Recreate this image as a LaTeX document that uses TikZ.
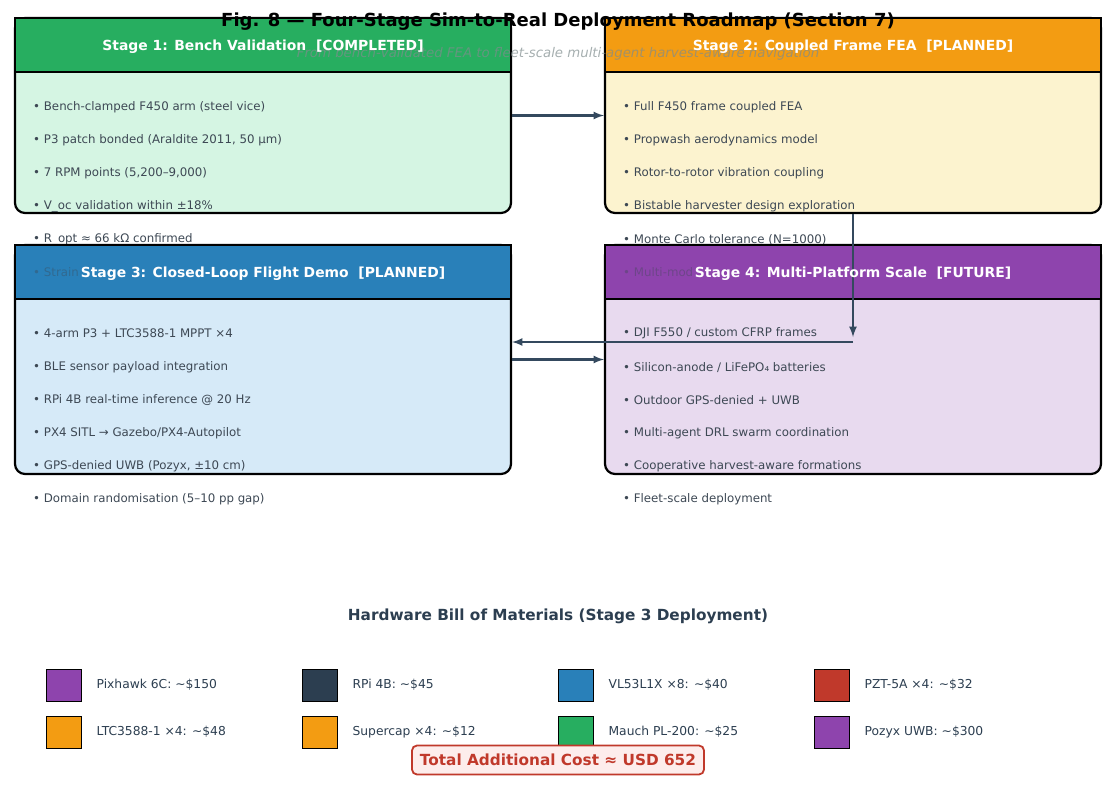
\documentclass[tikz,border=0pt]{standalone}
\usepackage{fontspec}
\setmainfont{DejaVu Sans}
\usetikzlibrary{positioning}
\tikzset{>=latex}
\definecolor{sgreen}{HTML}{27AE60}
\definecolor{sgreenlt}{HTML}{D5F5E3}
\definecolor{sorange}{HTML}{F39C12}
\definecolor{sorangelt}{HTML}{FCF3CF}
\definecolor{sblue}{HTML}{2980B9}
\definecolor{sbluelt}{HTML}{D6EAF8}
\definecolor{spurple}{HTML}{8E44AD}
\definecolor{spurplelt}{HTML}{E8DAEF}
\definecolor{sred}{HTML}{C0392B}
\definecolor{spink}{HTML}{FDEDEC}
\definecolor{slate}{HTML}{2C3E50}
\definecolor{flowgray}{HTML}{34495E}
\definecolor{itemgray}{HTML}{3D4854}
\definecolor{subgray}{HTML}{7F8C8D}
\tikzset{
  stagebox/.style={draw=black, line width=2.2pt, rounded corners=10pt, minimum width=496pt, inner sep=0pt},
  headbox/.style={draw=black, line width=2.2pt, minimum width=496pt, minimum height=54pt, inner sep=0pt},
  headtext/.style={text=white, yshift=-1.5pt, font=\bfseries\fontsize{13.9}{16}\selectfont},
  item/.style={anchor=west, inner sep=0pt, yshift=-1.5pt, text=itemgray, font=\fontsize{11.8}{14}\selectfont},
  hidden/.style={item, text opacity=0.4},
  flow/.style={->, draw=flowgray, line width=2.5pt},
  swatch/.style={draw=black, line width=0.8pt, minimum width=35pt, minimum height=32pt, inner sep=0pt},
  bomtext/.style={anchor=west, inner sep=0pt, text=slate, font=\fontsize{12.3}{14}\selectfont}
}

\begin{document}
\begin{tikzpicture}[x=1pt,y=-1pt]
  \pgfmathsetmacro{\leftx}{263};
  \pgfmathsetmacro{\rightx}{853};
  \pgfmathsetmacro{\itemleft}{33};
  \pgfmathsetmacro{\itemright}{623};
  \useasboundingbox (0,0) rectangle (1117,795);
  \node[stagebox, fill=sgreenlt, minimum height=195pt] (s1) at (\leftx,115.5) {};
  \node[stagebox, fill=sorangelt, minimum height=195pt] (s2) at (\rightx,115.5) {};
  \node[headbox, fill=sgreen, anchor=north] (h1) at (s1.north) {};
  \node[headbox, fill=sorange, anchor=north] (h2) at (s2.north) {};
  \node[item] (s1a) at (\itemleft,106) {• Bench-clamped F450 arm (steel vice)};
  \node[item] (s1b) at (\itemleft,139) {• P3 patch bonded (Araldite 2011, 50 µm)};
  \node[item] (s1c) at (\itemleft,172) {• 7 RPM points (5,200–9,000)};
  \node[item] (s1d) at (\itemleft,205) {• V\_oc validation within ±18\%};
  \node[item] (s1e) at (\itemleft,238) {• R\_opt ≈ 66 kΩ confirmed};
  \node[item] (s2a) at (\itemright,106) {• Full F450 frame coupled FEA};
  \node[item] (s2b) at (\itemright,139) {• Propwash aerodynamics model};
  \node[item] (s2c) at (\itemright,172) {• Rotor-to-rotor vibration coupling};
  \node[item] (s2d) at (\itemright,205) {• Bistable harvester design exploration};
  \node[item] (s2e) at (\itemright,238) {• Monte Carlo tolerance (N=1000)};
  \node[stagebox, fill=sbluelt, minimum height=229pt] (s3) at (\leftx,359.5) {};
  \node[stagebox, fill=spurplelt, minimum height=229pt] (s4) at (\rightx,359.5) {};
  \node[headbox, fill=sblue, anchor=north] (h3) at (s3.north) {};
  \node[headbox, fill=spurple, anchor=north] (h4) at (s4.north) {};
  \node[hidden] (s1f) at (\itemleft,271) {• Strain};
  \node[hidden] (s2f) at (\itemright,271) {• Multi-mod};
  \node[item] (s3a) at (\itemleft,332) {• 4-arm P3 + LTC3588-1 MPPT ×4};
  \node[item] (s3b) at (\itemleft,366) {• BLE sensor payload integration};
  \node[item] (s3c) at (\itemleft,399) {• RPi 4B real-time inference @ 20 Hz};
  \node[item] (s3d) at (\itemleft,432) {• PX4 SITL → Gazebo/PX4-Autopilot};
  \node[item] (s3e) at (\itemleft,465) {• GPS-denied UWB (Pozyx, ±10 cm)};
  \node[item] (s3f) at (\itemleft,498) {• Domain randomisation (5–10 pp gap)};
  \node[item] (s4a) at (\itemright,332) {• DJI F550 / custom CFRP frames};
  \node[item] (s4b) at (\itemright,366) {• Silicon-anode / LiFePO₄ batteries};
  \node[item] (s4c) at (\itemright,399) {• Outdoor GPS-denied + UWB};
  \node[item] (s4d) at (\itemright,432) {• Multi-agent DRL swarm coordination};
  \node[item] (s4e) at (\itemright,465) {• Cooperative harvest-aware formations};
  \node[item] (s4f) at (\itemright,498) {• Fleet-scale deployment};
  \coordinate (drop) at (\rightx,337);
  \coordinate (turn) at (\rightx,342);
  \draw[flow] (s1.east) -- (s2.west);
  \draw[flow] (s2.south) -- (drop);
  \draw[flow] (turn) -- (turn -| s3.east);
  \draw[flow] (s3.east) -- (s4.west);
  \node[font=\bfseries\fontsize{18}{21}\selectfont] (title) at (558,22) {Fig. 8 — Four-Stage Sim-to-Real Deployment Roadmap (Section 7)};
  \node[font=\itshape\fontsize{13.3}{15}\selectfont, text=subgray, text opacity=0.7] (subtitle) at (558,54) {From bench-validated FEA to fleet-scale multi-agent harvest-aware navigation};
  \node[headtext] (t1) at (h1) {Stage 1: Bench Validation\ \ [COMPLETED]};
  \node[headtext] (t2) at (h2) {Stage 2: Coupled Frame FEA\ \ [PLANNED]};
  \node[headtext] (t3) at (h3) {Stage 3: Closed-Loop Flight Demo\ \ [PLANNED]};
  \node[headtext] (t4) at (h4) {Stage 4: Multi-Platform Scale\ \ [FUTURE]};
  \node[text=slate, font=\bfseries\fontsize{15.3}{18}\selectfont] (bom) at (558,616) {Hardware Bill of Materials (Stage 3 Deployment)};
  \node[swatch, fill=spurple] (b1) at (63.5,685) {};
  \node[swatch, fill=slate] (b2) at (319.5,685) {};
  \node[swatch, fill=sblue] (b3) at (575.5,685) {};
  \node[swatch, fill=sred] (b4) at (831.5,685) {};
  \node[swatch, fill=sorange] (b5) at (63.5,732) {};
  \node[swatch, fill=sorange] (b6) at (319.5,732) {};
  \node[swatch, fill=sgreen] (b7) at (575.5,732) {};
  \node[swatch, fill=spurple] (b8) at (831.5,732) {};
  \node[bomtext, right=15pt of b1] (l1) {Pixhawk 6C: \textasciitilde\$150};
  \node[bomtext, right=15pt of b2] (l2) {RPi 4B: \textasciitilde\$45};
  \node[bomtext, right=15pt of b3] (l3) {VL53L1X ×8: \textasciitilde\$40};
  \node[bomtext, right=15pt of b4] (l4) {PZT-5A ×4: \textasciitilde\$32};
  \node[bomtext, right=15pt of b5] (l5) {LTC3588-1 ×4: \textasciitilde\$48};
  \node[bomtext, right=15pt of b6] (l6) {Supercap ×4: \textasciitilde\$12};
  \node[bomtext, right=15pt of b7] (l7) {Mauch PL-200: \textasciitilde\$25};
  \node[bomtext, right=15pt of b8] (l8) {Pozyx UWB: \textasciitilde\$300};
  \node[draw=sred, fill=spink, line width=1.8pt, rounded corners=5pt, text=sred, font=\bfseries\fontsize{15.3}{18}\selectfont, minimum width=292pt, minimum height=29pt] (total) at (558,760) {Total Additional Cost ≈ USD 652};
\end{tikzpicture}
\end{document}
